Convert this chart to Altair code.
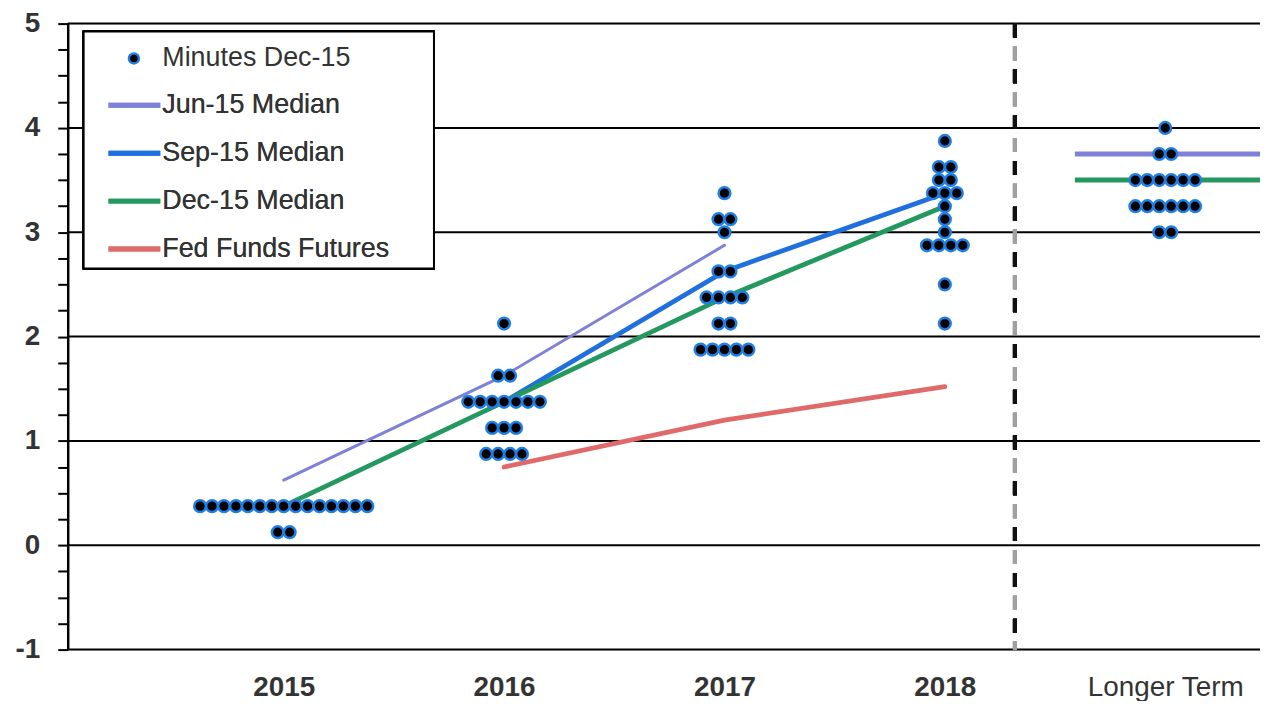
import altair as alt
import pandas as pd

# ---------------- data ----------------
CATEGORIES = ["2015", "2016", "2017", "2018", "Longer Term"]
CAT_POS = [1, 2, 3, 4, 5]

# Dec-15 dot plot: one entry per (category, rate) row with number of participants
dot_cat = (["2015"] * 2
           + ["2016"] * 5
           + ["2017"] * 7
           + ["2018"] * 10
           + ["Longer Term"] * 5)
dot_rate = ([0.375, 0.125]
            + [2.125, 1.625, 1.375, 1.125, 0.875]
            + [3.375, 3.125, 3.0, 2.625, 2.375, 2.125, 1.875]
            + [3.875, 3.625, 3.5, 3.375, 3.25, 3.125, 3.0, 2.875, 2.5, 2.125]
            + [4.0, 3.75, 3.5, 3.25, 3.0])
dot_count = ([15, 2]
             + [1, 2, 7, 3, 4]
             + [1, 2, 1, 2, 4, 2, 5]
             + [1, 2, 2, 3, 1, 1, 1, 4, 1, 1]
             + [1, 2, 6, 6, 2])

SERIES = ["Jun-15 Median", "Sep-15 Median", "Dec-15 Median", "Fed Funds Futures"]
SERIES_COLORS = ["#7f80d6", "#1f6fde", "#23985f", "#e06a6a"]

jun_cat = ["2015", "2016", "2017"]
jun_val = [0.625, 1.625, 2.875]
sep_cat = ["2016", "2017", "2018"]
sep_val = [1.375, 2.625, 3.375]
dec_cat = ["2015", "2016", "2017", "2018"]
dec_val = [0.375, 1.375, 2.375, 3.25]
ff_cat = ["2016", "2017", "2018"]
ff_val = [0.75, 1.20, 1.52]

lt_series = ["Jun-15 Median", "Dec-15 Median"]
lt_val = [3.75, 3.5]

DOT_LABEL = "Minutes Dec-15"
DOT_STROKE = "#1f7fe6"
GRID_LEVELS = [-1, 0, 1, 2, 3, 4, 5]
MINOR_TICKS = [-1 + 0.25 * i for i in range(25)]
DIVIDER = 4.318  # separator between dated years and longer term

# ---------------- tables ----------------
pos_of = dict(zip(CATEGORIES, CAT_POS))

dot_rows = []
for c, r, n in zip(dot_cat, dot_rate, dot_count):
    for i in range(n):
        dot_rows.append({"cat": c, "pos": pos_of[c], "rate": r, "idx": i, "n": n,
                         "series": DOT_LABEL})
dots_df = pd.DataFrame(dot_rows)

line_rows = []
for name, cats, vals in [(SERIES[0], jun_cat, jun_val), (SERIES[1], sep_cat, sep_val),
                         (SERIES[2], dec_cat, dec_val), (SERIES[3], ff_cat, ff_val)]:
    for c, v in zip(cats, vals):
        line_rows.append({"series": name, "pos": pos_of[c], "rate": v})
lines_df = pd.DataFrame(line_rows)

lt_df = pd.DataFrame({"series": lt_series, "rate": lt_val,
                      "pos": [pos_of["Longer Term"]] * len(lt_series)})
grid_df = pd.DataFrame({"level": GRID_LEVELS})

# ---------------- scales / axes ----------------
FONT = "Liberation Sans"
W, H = 1198, 629

X_SCALE = alt.Scale(domain=[0.02, 5.43], nice=False, zero=False)
label_array = "[" + ",".join("'" + c + "'" for c in CATEGORIES) + "]"
X_AXIS = alt.Axis(values=CAT_POS, labelExpr=label_array + "[datum.value - 1]",
                  ticks=False, domain=False, grid=False, labelFontSize=28,
                  labelColor="#333333", labelPadding=24, labelFont=FONT,
                  labelFlush=False, labelOverlap=False,
                  labelFontWeight={"condition": {"test": "datum.value < 4.5", "value": "bold"},
                                   "value": "normal"})
Y_SCALE = alt.Scale(domain=[-1, 5], nice=False, zero=False)
Y_AXIS = alt.Axis(values=MINOR_TICKS,
                  labelExpr="datum.value % 1 === 0 ? '' + datum.value : ''",
                  grid=False, domainColor="black", domainWidth=2.5, tickColor="black",
                  tickWidth=2, tickSize=10, labelFontSize=28, labelFontWeight="bold",
                  labelColor="#333333", labelPadding=18, labelFont=FONT, labelOverlap=False)

COLOR = alt.Color("series:N",
                  scale=alt.Scale(domain=SERIES, range=SERIES_COLORS),
                  title=None,
                  legend=alt.Legend(orient="none", legendX=53.5, legendY=68.5,
                                    direction="vertical", padding=0,
                                    symbolType="M-5.2,0H5.2", symbolSize=100,
                                    symbolStrokeWidth=5, rowPadding=20.2,
                                    labelOffset=14.5, labelFontSize=27, labelFont=FONT,
                                    labelColor="#333333", labelLimit=400))

# ---------------- layers ----------------
grid = alt.Chart(grid_df).mark_rule(color="black", strokeWidth=2).encode(
    y=alt.Y("level:Q", scale=Y_SCALE, axis=Y_AXIS, title=None)
)

divider_black = alt.Chart(grid_df).mark_rule(
    color="#111111", strokeWidth=4, strokeDash=[14, 32]
).encode(x=alt.datum(DIVIDER, scale=X_SCALE, axis=X_AXIS, title=None))
divider_grey = alt.Chart(grid_df).mark_rule(
    color="#a0a0a0", strokeWidth=4, strokeDash=[14, 32], strokeDashOffset=-23
).encode(x=alt.datum(DIVIDER, scale=X_SCALE, axis=X_AXIS, title=None))

lines = alt.Chart(lines_df).mark_line(strokeCap="round").encode(
    x=alt.X("pos:Q", scale=X_SCALE, axis=X_AXIS, title=None),
    y=alt.Y("rate:Q", scale=Y_SCALE, axis=Y_AXIS, title=None),
    color=COLOR,
    detail="series:N",
    strokeWidth=alt.condition(alt.datum.series == SERIES[0], alt.value(3), alt.value(4.8)),
)

lt_lines = alt.Chart(lt_df).mark_rule(strokeWidth=5).transform_calculate(
    x1="datum.pos - 0.41", x2="datum.pos + 0.43"
).encode(
    x=alt.X("x1:Q", scale=X_SCALE, axis=X_AXIS, title=None),
    x2="x2:Q",
    y=alt.Y("rate:Q", scale=Y_SCALE, axis=Y_AXIS, title=None),
    color=COLOR,
)

dots = alt.Chart(dots_df).mark_point(
    filled=True, fill="black", strokeWidth=2.5, size=138, opacity=1
).transform_calculate(
    xd="datum.pos + (datum.idx - (datum.n - 1) / 2) * 0.0542"
).encode(
    x=alt.X("xd:Q", scale=X_SCALE, axis=X_AXIS, title=None),
    y=alt.Y("rate:Q", scale=Y_SCALE, axis=Y_AXIS, title=None),
    stroke=alt.Stroke("series:N", scale=alt.Scale(domain=[DOT_LABEL], range=[DOT_STROKE]),
                      title=None,
                      legend=alt.Legend(orient="none", legendX=53, legendY=21.5,
                                        direction="vertical", padding=0, symbolSize=100,
                                        symbolType="circle",
                                        symbolFillColor="black",
                                        symbolStrokeWidth=2.5, labelOffset=15,
                                        labelFontSize=27, labelFont=FONT,
                                        labelColor="#333333", labelLimit=400)),
)

legend_box = alt.Chart(grid_df).mark_rect(
    fill="white", stroke="black", strokeWidth=2
).encode(x=alt.value(16), x2=alt.value(368), y=alt.value(8), y2=alt.value(246))

chart = alt.layer(
    grid, divider_black, divider_grey, lines, lt_lines, dots, legend_box
).resolve_scale(color="independent", stroke="independent").properties(
    width=W, height=H,
    autosize=alt.AutoSizeParams(type="none"),
    padding={"left": 60, "top": 14, "right": 0, "bottom": 50},
).configure_view(stroke=None).configure(background="white", font=FONT)

chart.save("out.html", embed_options={"renderer": "svg", "actions": False})
